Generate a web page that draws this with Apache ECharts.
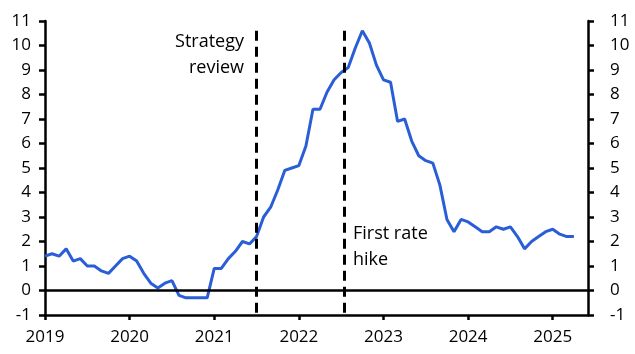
<!DOCTYPE html>
<html>
<head>
<meta charset="utf-8">
<script src="https://cdn.jsdelivr.net/npm/echarts@6.0.0/dist/echarts.min.js"></script>
<style>
  html, body { margin: 0; padding: 0; background: #fff; }
  #chart { width: 635px; height: 354px; }
</style>
</head>
<body>
<div id="chart"></div>
<script>
// monthly inflation, % y/y, Jan 2019 .. Apr 2025
const startYear = 2019;
const inflation = [
  1.4, 1.5, 1.4, 1.7, 1.2, 1.3, 1.0, 1.0, 0.8, 0.7, 1.0, 1.3,
  1.4, 1.2, 0.7, 0.3, 0.1, 0.3, 0.4, -0.2, -0.3, -0.3, -0.3, -0.3,
  0.9, 0.9, 1.3, 1.6, 2.0, 1.9, 2.2, 3.0, 3.4, 4.1, 4.9, 5.0,
  5.1, 5.9, 7.4, 7.4, 8.1, 8.6, 8.9, 9.1, 9.9, 10.6, 10.1, 9.2,
  8.6, 8.5, 6.9, 7.0, 6.1, 5.5, 5.3, 5.2, 4.3, 2.9, 2.4, 2.9,
  2.8, 2.6, 2.4, 2.4, 2.6, 2.5, 2.6, 2.2, 1.7, 2.0, 2.2, 2.4,
  2.5, 2.3, 2.2, 2.2
];
const yearTicks = [0, 12, 24, 36, 48, 60, 72];
const events = [
  { month: 30, lines: ['Strategy', 'review'] },
  { month: 42.4, lines: ['First rate', 'hike'] }
];

const font = '"Open Sans", "Noto Sans", sans-serif';
const ink = '#000';

const chart = echarts.init(document.getElementById('chart'));

const yAxisBase = {
  type: 'value',
  min: -1,
  max: 11,
  interval: 1,
  splitLine: { show: false },
  axisLine: { show: true, lineStyle: { color: ink, width: 2.5 } },
  axisTick: { show: true, length: 6, lineStyle: { color: ink, width: 2.5 } },
  axisLabel: { color: ink, fontSize: 17, fontFamily: font }
};

chart.setOption({
  animation: false,
  grid: { left: 45, right: 47, top: 21, bottom: 39 },
  xAxis: {
    type: 'value',
    min: 0,
    max: 77,
    splitLine: { show: false },
    axisLine: { onZero: false, lineStyle: { color: ink, width: 2.5 } },
    axisTick: { length: 5, customValues: yearTicks, lineStyle: { color: ink, width: 2.5 } },
    axisLabel: {
      customValues: yearTicks,
      margin: 14,
      color: ink,
      fontSize: 17,
      fontFamily: font,
      formatter: v => String(startYear + v / 12)
    }
  },
  yAxis: [
    Object.assign({}, yAxisBase, { position: 'left', axisLabel: Object.assign({}, yAxisBase.axisLabel, { margin: 14 }) }),
    Object.assign({}, yAxisBase, { position: 'right', axisLabel: Object.assign({}, yAxisBase.axisLabel, { margin: 22, align: 'left' }) })
  ],
  series: [
    {
      type: 'line',
      data: inflation.map((v, i) => [i, v]),
      showSymbol: false,
      symbol: 'none',
      lineStyle: { color: '#2a5ed6', width: 3 },
      z: 3,
      markLine: {
        silent: true,
        symbol: 'none',
        label: { show: false },
        data: [
          { yAxis: 0, lineStyle: { color: ink, width: 2.5, type: 'solid' } }
        ].concat(events.map(e => [
          { coord: [e.month, 10.6], lineStyle: { color: ink, width: 3, type: [10, 6] } },
          { coord: [e.month, -1] }
        ]))
      }
    }
  ],
  graphic: [
    { type: 'text', x: 244, y: 29, style: { text: events[0].lines.join('\n'), font: '18px ' + font, fill: ink, align: 'right', lineHeight: 26 } },
    { type: 'text', x: 353, y: 221, style: { text: events[1].lines.join('\n'), font: '18px ' + font, fill: ink, align: 'left', lineHeight: 26 } }
  ]
});
</script>
</body>
</html>
